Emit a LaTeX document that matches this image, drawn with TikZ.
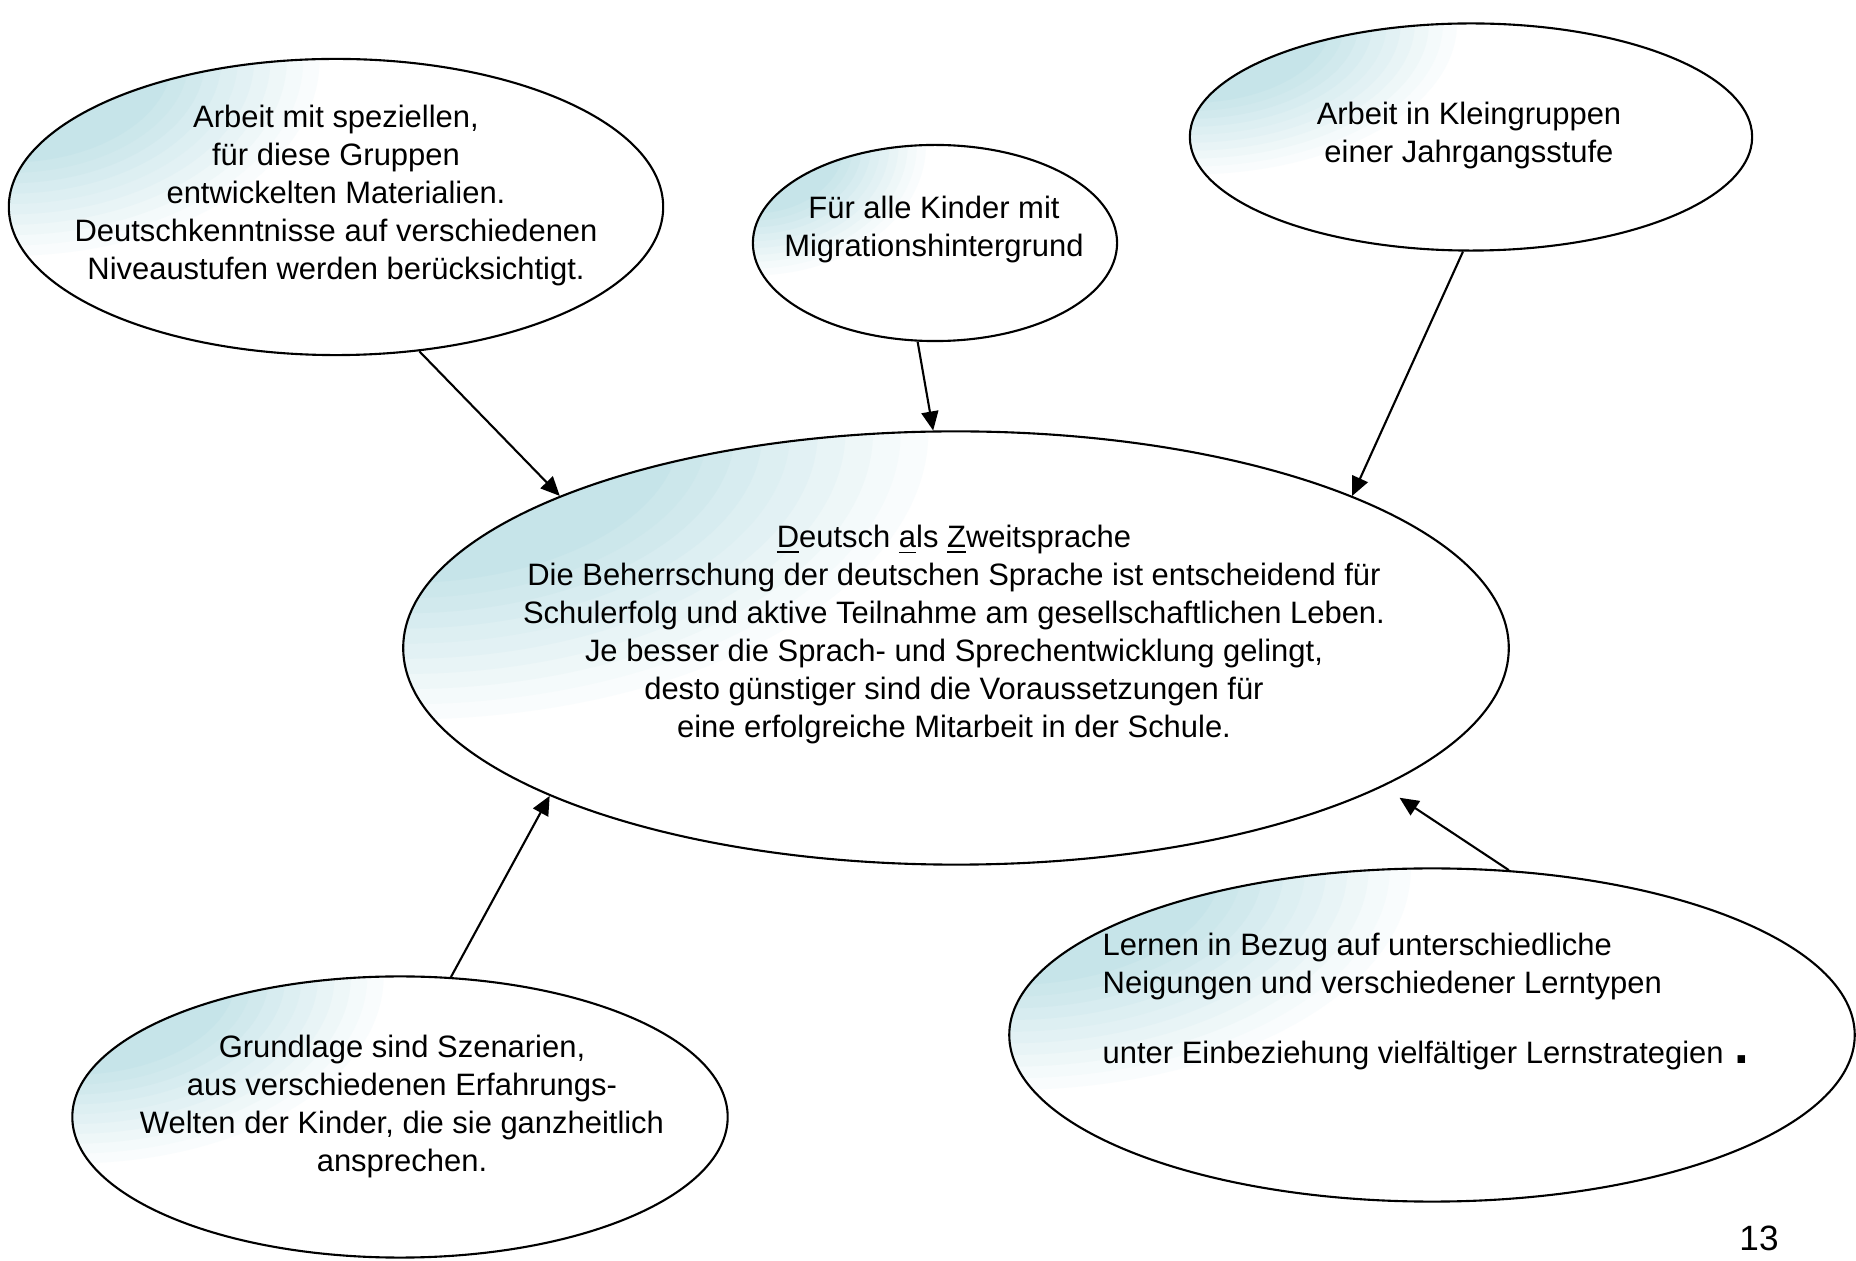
\documentclass[tikz,border=0pt]{standalone}
\usepackage{fontspec}
\setmainfont{Liberation Sans}
\usetikzlibrary{shapes.geometric,arrows.meta,calc}
\definecolor{dazTeal}{RGB}{198,228,233}

\begin{document}
\begin{tikzpicture}[x=0.01cm,y=-0.01cm,
    blase/.style={ellipse,draw,line width=0.6pt,fill=white,inner sep=0pt,
      path picture={
        \foreach \k [evaluate=\k as \pc using int(10*\k)] in {0,...,10}
          \fill[dazTeal!\pc!white]
            let \p1=(path picture bounding box.south west),
                \p2=(path picture bounding box.north east) in
            (\x1,\y2) ellipse [x radius={(1-0.05*\k)*0.5*(\x2-\x1)},
                               y radius={(1-0.05*\k)*0.7*(\y2-\y1)}];}},
    txt/.style={font=\fontsize{8.8pt}{10.8pt}\selectfont,align=center,inner sep=0pt,anchor=north},
    pfeil/.style={-{Triangle[length=1.9mm,width=1.7mm]},line width=0.6pt}]
  \useasboundingbox (0,0) rectangle (1856,1261);
  % Blasen rund um DaZ
  \node[blase,minimum width=6.54cm,minimum height=2.96cm] (material) at (336,207) {};
  \node[blase,minimum width=3.64cm,minimum height=1.96cm] (kinder) at (935,243) {};
  \node[blase,minimum width=5.62cm,minimum height=2.27cm] (kleingr) at (1471,137) {};
  \node[blase,minimum width=11.05cm,minimum height=4.33cm] (daz) at (956,648) {};
  \node[blase,minimum width=6.55cm,minimum height=2.81cm] (szen) at (400,1117) {};
  \node[blase,minimum width=8.45cm,minimum height=3.33cm] (lernen) at (1432,1035) {};

  \node[txt] (materialtxt) at (336,104) {Arbeit mit speziellen,\\ für diese Gruppen\\ entwickelten Materialien.\\ Deutschkenntnisse auf verschiedenen\\ Niveaustufen werden berücksichtigt.};
  \node[txt] (kindertxt) at (934,195) {Für alle Kinder mit\\ Migrationshintergrund};
  \node[txt] (kleingrtxt) at (1469,101) {Arbeit in Kleingruppen\\ einer Jahrgangsstufe};
  \node[txt] (daztxt) at (954,524) {\underline{D}eutsch \underline{a}ls \underline{Z}weitsprache\\ Die Beherrschung der deutschen Sprache ist entscheidend für\\ Schulerfolg und aktive Teilnahme am gesellschaftlichen Leben.\\ Je besser die Sprach- und Sprechentwicklung gelingt,\\ desto günstiger sind die Voraussetzungen für\\ eine erfolgreiche Mitarbeit in der Schule.};
  \node[txt] (szentxt) at (402,1034) {Grundlage sind Szenarien,\\ aus verschiedenen Erfahrungs-\\ Welten der Kinder, die sie ganzheitlich\\ ansprechen.};
  \node[txt,align=left,anchor=north west] (lernentxt) at (1102,932) {Lernen in Bezug auf unterschiedliche\\ Neigungen und verschiedener Lerntypen\\[0.32cm] unter Einbeziehung vielfältiger Lernstrategien\hspace{0.35em}{\fontsize{15pt}{10.8pt}\selectfont\textbf{.}}};

  \node[font=\fontsize{10pt}{12pt}\selectfont,anchor=base,inner sep=0pt] (seite) at (1759,1251) {13};

  % Pfeile zur Mitte
  \draw[pfeil] (material.-60.6) -- (daz.159.8);
  \draw[pfeil] (kinder.260) -- (daz.96);
  \draw[pfeil] (kleingr.266) -- (daz.21.3);
  \draw[pfeil] (szen.70.5) -- (daz.200.2);
  \draw[pfeil,shorten >=2mm] (lernen.65.4) -- (daz.-18);
\end{tikzpicture}
\end{document}
